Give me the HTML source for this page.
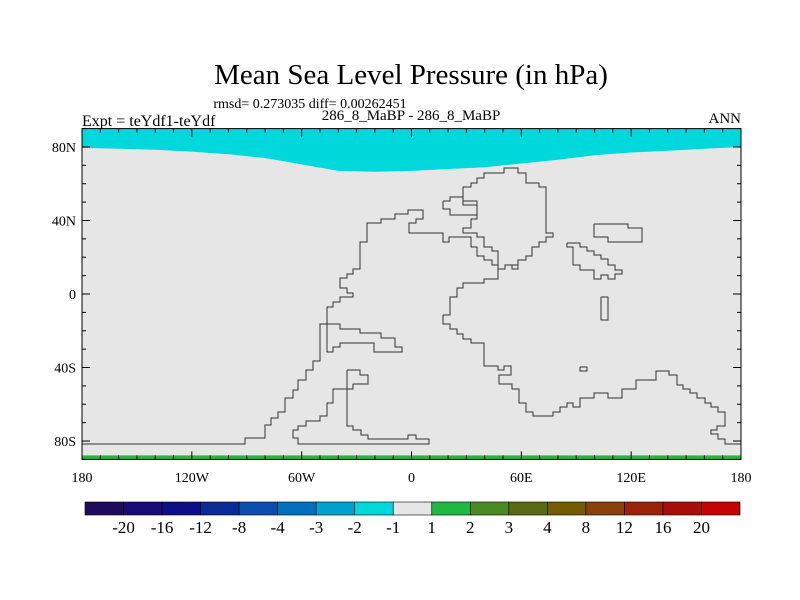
<!DOCTYPE html>
<html><head><meta charset="utf-8"><style>
body{margin:0;background:#fff;}
svg{display:block;font-family:"Liberation Serif",serif;}
</style></head><body>
<svg id="chart" width="800" height="600" viewBox="0 0 800 600">
<text x="411" y="84" font-size="29" text-anchor="middle">Mean Sea Level Pressure (in hPa)</text>
<text x="310" y="108" font-size="14" text-anchor="middle">rmsd= 0.273035 diff= 0.00262451</text>
<text x="411" y="120" font-size="15" text-anchor="middle">286_8_MaBP - 286_8_MaBP</text>
<text x="82" y="126" font-size="16">Expt = teYdf1-teYdf</text>
<text x="741" y="123" font-size="15" text-anchor="end">ANN</text>
<g id="plot"></g>
<g id="coast" fill="none" stroke="#333" stroke-width="1"></g>
<g id="axes"></g>
<g id="cbar"></g>
</svg>
<script>
const levelLabels = ["-20","-16","-12","-8","-4","-3","-2","-1","1","2","3","4","8","12","16","20"];
const levelColors = ["#1f0b5e","#170c78","#0c0f88","#0a2a98","#0a4eae","#0070bf","#00a3d0","#00d8dc","#e6e6e6","#21b841","#4a8a22","#5a6a12","#735c00","#8a410a","#9a2408","#a80d08","#c40202"];
const capLons = [-180,-160,-140,-120,-100,-80,-60,-40,-20,0,20,40,60,80,100,120,140,160,180];
const capLats = [79.5,79,78.5,77.5,76,74,70.5,67,66.5,67,68,69,71,73,75.5,77,78,79,80];
const xTickLons = [-180,-120,-60,0,60,120,180];
const xTickLabels = ["180","120W","60W","0","60E","120E","180"];
const yTickLats = [80,40,0,-40,-80];
const yTickLabels = ["80N","40N","0","40S","80S"];

const NS="http://www.w3.org/2000/svg";
const L=82,R=741,T=128.6,B=459.4;
const xs=lon=>L+(lon+180)/360*(R-L);
const ys=lat=>T+(90-lat)/180*(B-T);
function mk(tag,attrs,parent){const e=document.createElementNS(NS,tag);for(const k in attrs)e.setAttribute(k,attrs[k]);parent.appendChild(e);return e;}
const plot=document.getElementById('plot');
const bg=mk('rect',{x:L,y:T,width:R-L,height:B-T,fill:"#e6e6e6"},plot);


let d="M"+xs(-180)+","+ys(90);
capLons.forEach((lo,i)=>{d+=" L"+xs(lo).toFixed(1)+","+ys(capLats[i]).toFixed(1);});
d+=" L"+xs(180)+","+ys(90)+"Z";
const cap=mk('path',{d:d,fill:"#00d8dc"},plot);


const sstrip=mk('rect',{x:L,y:B-4,width:R-L,height:4,fill:"#21b841"},plot);



// coastline outlines (pixel traced)
const coastPaths=[
"82,444 245,444 245,438 265,438 265,425 271,425 271,418 278,418 278,412 285,412 285,398 293,398 293,390 298,390 298,380 306,380 306,370 313,370 313,361 320,361 320,324 340,324 340,329 360,329 360,333 381,333 381,338 395,338 395,347 402,347 402,352 374,352 374,343 340,343 340,347 333,347 333,352 327,352 327,307 333,307 333,302 340,302 340,297 353,297 353,293 347,293 347,288 340,288 340,278 347,278 347,274 353,274 353,269 360,269 360,242 367,242 367,223 381,223 381,219 395,219 395,214 408,214 408,210 423,210 423,219 416,219 416,223 409,223 409,233 443,233 443,242 449,242 449,237 471,237 471,247 477,247 477,256 484,256 484,260 492,260 492,265 498,265 498,279 484,279 484,283 463,283 463,288 457,288 457,297 450,297 450,315 443,315 443,324 450,324 450,329 457,329 457,334 463,334 463,339 471,339 471,343 484,343 484,366 498,366 498,370 504,370 504,366 511,366 511,375 499,375 499,384 512,384 512,389 519,389 519,403 526,403 526,412 533,412 533,416 553,416 553,412 560,412 560,407 567,407 567,403 573,403 573,407 580,407 580,398 594,398 594,393 608,393 608,398 622,398 622,389 636,389 636,380 656,380 656,371 669,371 669,375 677,375 677,385 683,385 683,389 690,389 690,393 697,393 697,398 705,398 705,403 711,403 711,407 718,407 718,412 725,412 725,426 717,426 717,430 711,430 711,434 718,434 718,439 725,439 725,444 741,444",
"463,196 463,187 471,187 471,183 477,183 477,178 484,178 484,173 504,173 504,168 518,168 518,173 526,173 526,183 539,183 539,187 546,187 546,233 553,233 553,237 546,237 546,242 539,242 539,247 532,247 532,256 526,256 526,260 518,260 518,269 512,269 512,265 505,265 505,269 498,269 498,251 492,251 492,247 484,247 484,237 477,237 477,233 463,233 463,228 471,228 471,219 477,219 477,205 471,205 463,205 463,196",
"443,201 450,201 450,197 463,197 463,201 477,201 477,215 450,215 450,209 443,209 443,201",
"512,265 518,265 518,269 512,269",
"347,370 360,370 360,375 368,375 368,384 353,384 353,389 333,389 333,403 327,403 327,416 320,416 320,421 306,421 306,426 298,426 298,430 293,430 293,438 298,438 298,444 429,444 429,439 416,439 416,435 408,435 408,439 368,439 368,435 361,435 361,430 353,430 353,426 347,426 347,370",
"594,224 628,224 628,228 642,228 642,242 608,242 608,237 594,237 594,224",
"567,243 580,243 580,247 587,247 587,251 594,251 594,255 601,255 601,259 608,259 608,265 615,265 615,270 622,270 622,274 615,274 615,279 608,279 608,275 601,275 601,279 594,279 594,270 580,270 580,265 573,265 573,247 567,247 567,243",
"601,297 608,297 608,320 601,320 601,297",
"580,367 587,367 587,371 580,371 580,367"];
const coast=document.getElementById('coast');
coastPaths.forEach(p=>{const e=mk('polyline',{points:p},coast);

});

// axes
const ax=document.getElementById('axes');
const fr=mk('rect',{x:L,y:T,width:R-L,height:B-T,fill:"none",stroke:"#000","stroke-width":1},ax);


for(let lon=-180;lon<=180;lon+=10){const x=xs(lon);const len=(lon%60===0)?8:4;
 mk('line',{x1:x,y1:T,x2:x,y2:T+len,stroke:"#000"},ax);mk('line',{x1:x,y1:B,x2:x,y2:B-len,stroke:"#000"},ax);}
for(let lat=-90;lat<=90;lat+=10){const y=ys(lat);const len=(lat%40===0)?8:4;
 mk('line',{x1:L,y1:y,x2:L+len,y2:y,stroke:"#000"},ax);mk('line',{x1:R,y1:y,x2:R-len,y2:y,stroke:"#000"},ax);}
xTickLons.forEach((lo,i)=>{const t=mk('text',{x:xs(lo),y:482,"font-size":14,"text-anchor":"middle"},ax);t.textContent=xTickLabels[i];

});
yTickLats.forEach((la,i)=>{const t=mk('text',{x:76,y:ys(la)+5,"font-size":14,"text-anchor":"end"},ax);t.textContent=yTickLabels[i];

});

// colorbar
const cb=document.getElementById('cbar');
const cx0=85,cx1=740,cy=502,ch=13,bw=(cx1-cx0)/levelColors.length;
levelColors.forEach((c,i)=>{const r=mk('rect',{x:cx0+i*bw,y:cy,width:bw,height:ch,fill:c,stroke:"#000","stroke-width":0.6},cb);

});
levelLabels.forEach((s,i)=>{const t=mk('text',{x:cx0+(i+1)*bw,y:533,"font-size":17,"text-anchor":"middle"},cb);t.textContent=s;

});
</script>
</body></html>
